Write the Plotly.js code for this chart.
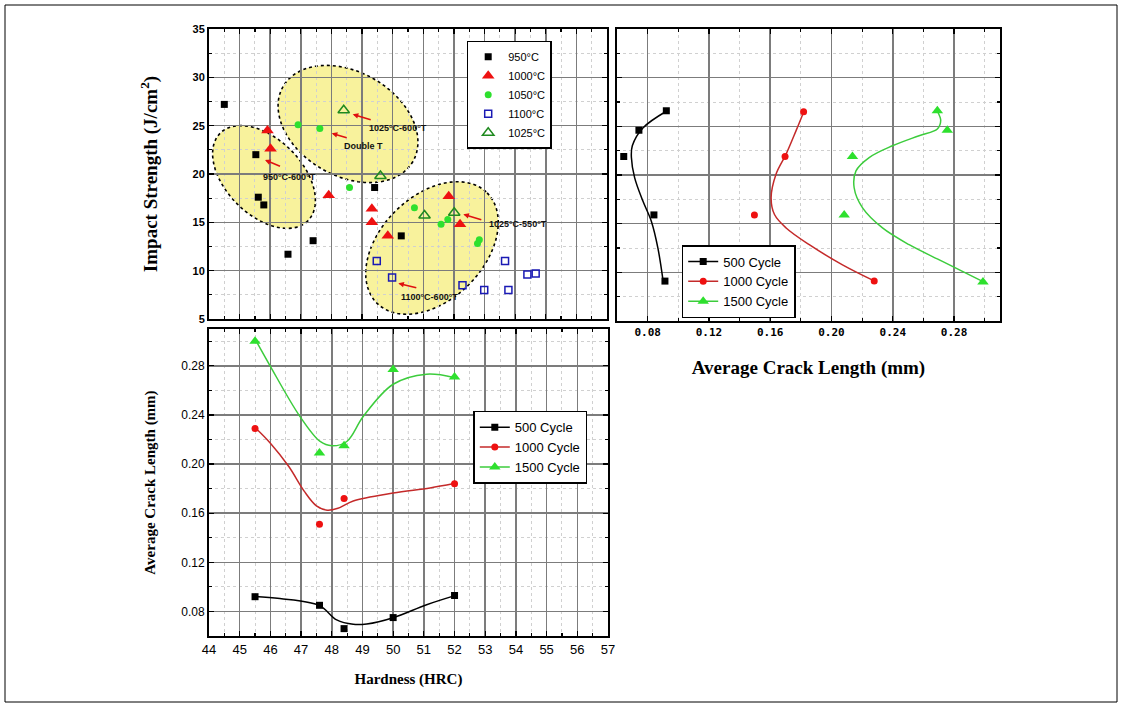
<!DOCTYPE html>
<html>
<head>
<meta charset="utf-8">
<script src="https://cdn.plot.ly/plotly-3.0.1.min.js"></script>
<style>html,body{margin:0;padding:0;background:#fff}#chart{width:1122px;height:704px}</style>
</head>
<body>
<div id="chart"></div>
<script>
// ---------- DATA ----------
// Top-left: Hardness (HRC) vs Impact Strength (J/cm2)
const hard950  = [44.5, 45.53, 45.61, 45.79, 46.58, 47.40, 49.41, 50.28];
const imp950   = [27.2, 22.0, 17.6, 16.8, 11.7, 13.1, 18.6, 13.6];
const hard1000 = [45.91, 46.01, 47.91, 49.32, 49.32, 49.84, 51.83, 52.2];
const imp1000  = [24.5, 22.6, 17.8, 16.4, 15.0, 13.6, 17.7, 14.8];
const hard1050 = [46.91, 47.62, 48.59, 50.71, 51.58, 51.80, 52.83, 52.77];
const imp1050  = [25.1, 24.7, 18.6, 16.5, 14.8, 15.3, 13.2, 12.8];
const hard1100 = [49.48, 49.98, 52.28, 52.99, 53.67, 53.78, 54.40, 54.67];
const imp1100  = [11.0, 9.3, 8.5, 8.0, 11.0, 8.0, 9.6, 9.7];
const hard1025 = [48.40, 49.60, 51.04, 52.01];
const imp1025  = [26.6, 19.8, 15.7, 16.0];
const tempNames = ["950°C", "1000°C", "1050°C", "1100°C", "1025°C"];

// Top-right: Average crack length (mm) vs Impact Strength
const crack500tr  = [0.0922, 0.0743, 0.0644, 0.0841, 0.0913];
const imp500tr    = [26.6, 24.6, 21.9, 15.9, 9.1];
const crack1000tr = [0.1818, 0.1697, 0.1497, 0.2279];
const imp1000tr   = [26.5, 21.9, 15.9, 9.1];
const crack1500tr = [0.2691, 0.2756, 0.2137, 0.2083, 0.2989];
const imp1500tr   = [26.6, 24.6, 21.9, 15.9, 9.0];
// fitted curves
const fit500trX  = [0.0922, 0.0769, 0.0700, 0.0694, 0.0715, 0.0769, 0.0824, 0.0867, 0.0900];
const fit500trY  = [26.55, 24.83, 23.0, 21.79, 19.73, 17.32, 15.25, 12.49, 9.22];
const fit1000trX = [0.1818, 0.1769, 0.1704, 0.1638, 0.1606, 0.1628, 0.1704, 0.1855, 0.2072, 0.2279];
const fit1000trY = [26.45, 24.56, 22.15, 20.08, 17.66, 15.94, 14.56, 12.84, 10.77, 9.12];
const fit1500trX = [0.2691, 0.2713, 0.2691, 0.2572, 0.2398, 0.2246, 0.2160, 0.2148, 0.2203, 0.2333, 0.2507, 0.2724, 0.2989];
const fit1500trY = [26.55, 25.59, 24.73, 24.04, 23.0, 21.79, 20.42, 18.69, 16.62, 14.56, 12.84, 11.12, 9.05];

// Bottom: Hardness vs Average crack length
const hardB     = [45.5, 47.6, 48.4, 50.0, 52.0];
const crack500  = [0.092, 0.085, 0.066, 0.075, 0.093];
const hardB1000 = [45.5, 47.6, 48.4, 52.0];
const crack1000 = [0.229, 0.151, 0.172, 0.184];
const crack1500 = [0.300, 0.209, 0.215, 0.277, 0.271];
const fit500X  = [45.5, 46.31, 47.59, 48.16, 48.7, 49.14, 50.0, 51.09, 52.01];
const fit500Y  = [0.0921, 0.0905, 0.0849, 0.0731, 0.0695, 0.0698, 0.0749, 0.0855, 0.0929];
const fit1000X = [45.5, 46.0, 46.6, 47.1, 47.5, 47.85, 48.2, 48.70, 50.0, 51.2, 51.98];
const fit1000Y = [0.2298, 0.2170, 0.1980, 0.1780, 0.1660, 0.1625, 0.1640, 0.1700, 0.1764, 0.1805, 0.1841];
const fit1500X = [45.53, 45.99, 46.96, 47.62, 48.0, 48.49, 49.03, 50.0, 51.09, 51.98];
const fit1500Y = [0.3005, 0.28, 0.2389, 0.2184, 0.2149, 0.2184, 0.2389, 0.265, 0.2732, 0.2705];
const cycleNames = ["500 Cycle", "1000 Cycle", "1500 Cycle"];

// ---------- LAYOUT HELPERS ----------
const W = 1122, H = 704;
const C_BLACK = '#000000', C_RED = '#ee1111', C_REDLINE = '#c42a2a', C_GREEN = '#2ee02e', C_GREENLINE = '#3ccc3c', C_BLUE = '#1a1ab4', C_DKGREEN = '#1f8a1f';

function ax(extra, minorDtick) {
  const base = {
    showline: true, linecolor: '#000', linewidth: 2, mirror: 'ticks',
    showgrid: true, gridcolor: '#7c7c7c', gridwidth: 1.5, zeroline: false,
    ticks: 'inside', ticklen: 5, tickwidth: 1.2, tickcolor: '#000',
    minor: {dtick: minorDtick, showgrid: true, gridcolor: '#d0d0d0', griddash: 'dot', gridwidth: 1,
            ticks: 'inside', ticklen: 3, tickcolor: '#000'},
    fixedrange: true, automargin: false
  };
  return Object.assign(base, extra);
}

// mapping for top-left panel (pixel -> data), used only for highlight ellipses / notes
const TL = {x0: 209, x1: 607, y0: 29, y1: 319, xr: [44, 57], yr: [5, 35]};
function tlx(p) { return TL.xr[0] + (p - TL.x0) * (TL.xr[1] - TL.xr[0]) / (TL.x1 - TL.x0); }
function tly(p) { return TL.yr[1] - (p - TL.y0) * (TL.yr[1] - TL.yr[0]) / (TL.y1 - TL.y0); }
function ellipsePath(cx, cy, a, b, angDeg) {
  const t = angDeg * Math.PI / 180; let s = '';
  for (let i = 0; i <= 72; i++) {
    const u = i / 72 * 2 * Math.PI;
    const px = cx + a * Math.cos(u) * Math.cos(t) - b * Math.sin(u) * Math.sin(t);
    const py = cy + a * Math.cos(u) * Math.sin(t) + b * Math.sin(u) * Math.cos(t);
    s += (i === 0 ? 'M' : 'L') + tlx(px).toFixed(4) + ',' + tly(py).toFixed(4);
  }
  return s + 'Z';
}
const ellipses = [[348, 124, 75, 52, 30], [264, 177, 62, 38, 45], [432, 248, 78, 52, -45]];
const shapes = [];
ellipses.forEach(e => {
  shapes.push({type: 'path', xref: 'x', yref: 'y', path: ellipsePath(...e), layer: 'below',
    fillcolor: '#f8f29c', line: {color: '#000', width: 1.6, dash: 'dot'}});
});
shapes.push({type: 'rect', xref: 'paper', yref: 'paper', x0: 5 / W, x1: 1117 / W, y0: 2 / H, y1: 1 - 5 / H,
  line: {color: '#000', width: 1}, fillcolor: 'rgba(0,0,0,0)'});

const lblFont = {family: 'Liberation Sans, Arial', size: 9, color: '#111', weight: 'bold'};
const arrows = [
  {x: tlx(352.7), y: tly(114.3), ax: 20, ay: 6},
  {x: tlx(331.7), y: tly(133.3), ax: 17, ay: 5},
  {x: tlx(265), y: tly(160), ax: 17, ay: 7},
  {x: tlx(463.3), y: tly(214.3), ax: 20, ay: 6},
  {x: tlx(398.3), y: tly(283.3), ax: 20, ay: 5}
];
const labels = [
  {t: '1025°C-600°T', x: 367, y: 128},
  {t: 'Double T', x: 342, y: 146},
  {t: '950°C-600°T', x: 261, y: 177},
  {t: '1025°C-550°T', x: 487, y: 224},
  {t: '1100°C-600°T', x: 399, y: 297}
];
const annotations = [];
arrows.forEach(a => annotations.push({xref: 'x', yref: 'y', x: a.x, y: a.y, ax: a.ax, ay: a.ay, text: ' ',
  showarrow: true, arrowcolor: '#e01010', arrowwidth: 1.6, arrowhead: 2, arrowsize: 0.7, font: {size: 2}}));
labels.forEach(l => annotations.push({xref: 'x', yref: 'y', x: tlx(l.x), y: tly(l.y), text: l.t,
  showarrow: false, xanchor: 'left', yanchor: 'middle', font: lblFont}));

const serifTitle = (s) => ({family: 'Liberation Serif, Times New Roman', size: s, color: '#000', weight: 'bold'});

const layout = {
  width: W, height: H, margin: {l: 0, r: 0, t: 0, b: 0},
  paper_bgcolor: '#fff', plot_bgcolor: '#fff', showlegend: true,
  xaxis: ax({domain: [209 / W, 607 / W], range: [44, 57], dtick: 1, anchor: 'y', showticklabels: false}, 0.5),
  yaxis: ax({domain: [1 - 319 / H, 1 - 29 / H], range: [5, 35], dtick: 5, anchor: 'x',
    tickfont: {family: 'Liberation Sans, Arial', size: 11, color: '#000', weight: 'bold'},
    title: {text: 'Impact Strength (J/cm<sup>2</sup>)', font: serifTitle(19), standoff: 30}}, 2.5),
  xaxis2: ax({domain: [617 / W, 1000 / W], range: [0.06, 0.31], tick0: 0.08, dtick: 0.04, tickformat: '.2f', anchor: 'y2',
    tickfont: {family: 'DejaVu Sans Mono, monospace', size: 11, color: '#000', weight: 'bold'},
    title: {text: 'Average Crack Length (mm)', font: serifTitle(19), standoff: 22}}, 0.02),
  yaxis2: ax({domain: [1 - 321 / H, 1 - 29 / H], range: [5, 35], dtick: 5, anchor: 'x2', showticklabels: false}, 2.5),
  xaxis3: ax({domain: [209 / W, 608 / W], range: [44, 57], dtick: 1, anchor: 'y3',
    tickfont: {family: 'Liberation Sans, Arial', size: 13, color: '#000'},
    title: {text: 'Hardness (HRC)', font: serifTitle(15), standoff: 18}}, 0.5),
  yaxis3: ax({domain: [1 - 636 / H, 1 - 329 / H], range: [0.06, 0.31], tick0: 0.08, dtick: 0.04, tickformat: '.2f', anchor: 'x3',
    tickfont: {family: 'Liberation Sans, Arial', size: 12, color: '#000'},
    title: {text: 'Average Crack Length (mm)', font: serifTitle(15), standoff: 22}}, 0.02),
  legend: {x: 466.7 / W, y: 1 - 40.7 / H, xanchor: 'left', yanchor: 'top', bgcolor: '#fff', bordercolor: '#000', borderwidth: 1.5,
    font: {family: 'Liberation Sans, Arial', size: 11, color: '#000'}, itemwidth: 30, tracegroupgap: 0},
  legend2: {x: 681.7 / W, y: 1 - 245 / H, xanchor: 'left', yanchor: 'top', bgcolor: '#fff', bordercolor: '#000', borderwidth: 1.5,
    font: {family: 'Liberation Sans, Arial', size: 13, color: '#000'}, tracegroupgap: 0},
  legend3: {x: 473.3 / W, y: 1 - 410.7 / H, xanchor: 'left', yanchor: 'top', bgcolor: '#fff', bordercolor: '#000', borderwidth: 1.5,
    font: {family: 'Liberation Sans, Arial', size: 13, color: '#000'}, tracegroupgap: 0},
  shapes: shapes, annotations: annotations
};

// ---------- TRACES ----------
const traces = [];
traces.push({x: hard950, y: imp950, name: tempNames[0], type: 'scatter', mode: 'markers', xaxis: 'x', yaxis: 'y', legend: 'legend',
  marker: {symbol: 'square', size: 7, color: C_BLACK}});
traces.push({x: hard1000, y: imp1000, name: tempNames[1], type: 'scatter', mode: 'markers', xaxis: 'x', yaxis: 'y', legend: 'legend',
  marker: {symbol: 'triangle-up', size: 11, color: C_RED}});
traces.push({x: hard1050, y: imp1050, name: tempNames[2], type: 'scatter', mode: 'markers', xaxis: 'x', yaxis: 'y', legend: 'legend',
  marker: {symbol: 'circle', size: 7, color: C_GREEN}});
traces.push({x: hard1100, y: imp1100, name: tempNames[3], type: 'scatter', mode: 'markers', xaxis: 'x', yaxis: 'y', legend: 'legend',
  marker: {symbol: 'square-open', size: 7, color: C_BLUE, line: {width: 1.5}}});
traces.push({x: hard1025, y: imp1025, name: tempNames[4], type: 'scatter', mode: 'markers', xaxis: 'x', yaxis: 'y', legend: 'legend',
  marker: {symbol: 'triangle-up-open', size: 10, color: C_DKGREEN, line: {width: 1.5}}});

const cyc = [
  {name: cycleNames[0], lc: C_BLACK, mc: C_BLACK, sym: 'square', sz: 7},
  {name: cycleNames[1], lc: C_REDLINE, mc: C_RED, sym: 'circle', sz: 7},
  {name: cycleNames[2], lc: C_GREENLINE, mc: C_GREEN, sym: 'triangle-up', sz: 10}
];
function addPanel(xa, ya, lg, fits, pts) {
  fits.forEach((f, i) => {
    const c = cyc[i];
    traces.push({x: f[0], y: f[1], name: c.name, type: 'scatter', mode: 'lines+markers', xaxis: xa, yaxis: ya, legend: lg,
      line: {color: c.lc, width: 1.5, shape: 'spline', smoothing: 1},
      marker: {symbol: c.sym, size: c.sz, color: c.mc},
      selectedpoints: [], unselected: {marker: {opacity: 0}}, hoverinfo: 'skip'});
  });
  pts.forEach((p, i) => {
    const c = cyc[i];
    traces.push({x: p[0], y: p[1], name: c.name, type: 'scatter', mode: 'markers', xaxis: xa, yaxis: ya, showlegend: false,
      marker: {symbol: c.sym, size: c.sz, color: c.mc}});
  });
}
addPanel('x2', 'y2', 'legend2',
  [[fit500trX, fit500trY], [fit1000trX, fit1000trY], [fit1500trX, fit1500trY]],
  [[crack500tr, imp500tr], [crack1000tr, imp1000tr], [crack1500tr, imp1500tr]]);
addPanel('x3', 'y3', 'legend3',
  [[fit500X, fit500Y], [fit1000X, fit1000Y], [fit1500X, fit1500Y]],
  [[hardB, crack500], [hardB1000, crack1000], [hardB, crack1500]]);

Plotly.newPlot('chart', traces, layout, {staticPlot: true, displayModeBar: false});
</script>
</body>
</html>
